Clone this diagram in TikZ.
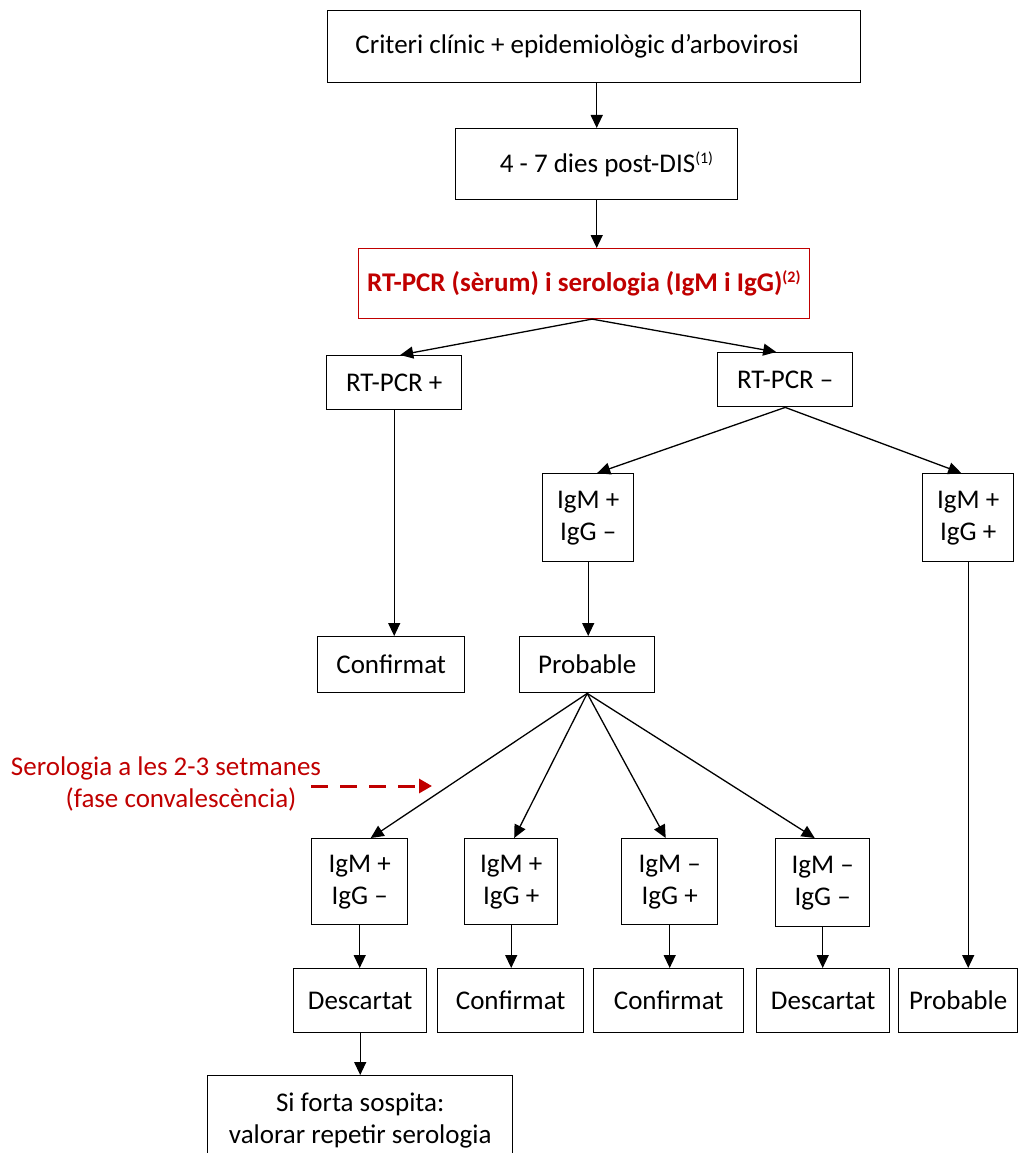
\documentclass[tikz,border=0pt]{standalone}
\usepackage{fontspec}
\setmainfont{Carlito}
\usetikzlibrary{arrows.meta,calc}
\definecolor{darkred}{RGB}{192,0,0}
\newcommand{\fnref}[1]{\textsuperscript{\fontsize{16}{16}\selectfont(#1)}}
\begin{document}
\begin{tikzpicture}[x=1pt,y=-1pt,
  box/.style={draw, line width=1.4pt, inner sep=0pt, anchor=north west,
    align=center, font=\fontsize{27}{32}\selectfont},
  arr/.style={line width=1.3pt, -{Triangle[length=13pt,width=12pt]}},
  redarr/.style={line width=3pt, darkred, dash pattern=on 17pt off 12pt,
    -{Triangle[length=13pt,width=14pt]}},
]
\useasboundingbox (0,0) rectangle (1019,1153);

% main chain
\node[box, minimum width=533, minimum height=72] (crit) at (327,10)
  {Criteri clínic + epidemiològic d’arbovirosi\hspace*{34pt}};
\node[box, minimum width=282, minimum height=71] (dies) at (455,128)
  {\hspace*{20pt}4 - 7 dies post-DIS\fnref{1}};
\node[box, draw=darkred, line width=1.1pt, text=darkred, minimum width=451, minimum height=70,
  font=\fontsize{27}{32}\selectfont\bfseries] (pcr) at (358,248)
  {RT-PCR (sèrum) i serologia (IgM i IgG)\fnref{2}};

% RT-PCR result
\node[box, minimum width=135, minimum height=54] (pos) at (326,355) {RT-PCR +};
\node[box, minimum width=135, minimum height=54] (neg) at (717,352) {RT-PCR –};

% serology with negative RT-PCR
\node[box, minimum width=91, minimum height=88] (mg1) at (542,473) {IgM +\\IgG –};
\node[box, minimum width=91, minimum height=88] (mg2) at (922,473) {IgM +\\IgG +};

\node[box, minimum width=147, minimum height=56] (conf1) at (317,636) {Confirmat};
\node[box, minimum width=135, minimum height=56] (prob1) at (519,636) {Probable};

% convalescent serology
\node[box, minimum width=96, minimum height=86] (b1) at (311,838) {IgM +\\IgG –};
\node[box, minimum width=93, minimum height=86] (b2) at (464,838) {IgM +\\IgG +};
\node[box, minimum width=96, minimum height=86] (b3) at (621,838) {IgM –\\IgG +};
\node[box, minimum width=94, minimum height=88] (b4) at (775,838) {IgM –\\IgG –};

\node[box, minimum width=133, minimum height=64] (d1) at (293,968) {Descartat};
\node[box, minimum width=146, minimum height=64] (c2) at (437,968) {Confirmat};
\node[box, minimum width=150, minimum height=64] (c3) at (593,968) {Confirmat};
\node[box, minimum width=133, minimum height=64] (d4) at (756,968) {Descartat};
\node[box, minimum width=119, minimum height=64] (prob2) at (898,968) {Probable};

\node[box, minimum width=305, minimum height=90] (sos) at (207,1075)
  {Si forta sospita:\\valorar repetir serologia};

% timing note
\node[text=darkred, align=center, font=\fontsize{27}{32}\selectfont] (note) at (166,784)
  {Serologia a les 2-3 setmanes\\\hspace*{30pt}(fase convalescència)};
\coordinate (dashstart) at (311,786);
\coordinate (dashend) at (432,786);
\draw[redarr] (dashstart) -- (dashend);

% connectors
\draw[arr] (crit.south -| dies.north) -- (dies.north);
\draw[arr] (dies.south) -- (pcr.north -| dies.south);
\draw[arr] ([xshift=8pt]pcr.south) -- ([xshift=6pt]pos.north);
\draw[arr] ([xshift=8pt]pcr.south) -- ([xshift=-9pt]neg.north);
\draw[arr] (neg.south) -- ([xshift=9pt]mg1.north);
\draw[arr] (neg.south) -- ([xshift=-7pt]mg2.north);
\draw[arr] (pos.south) -- (pos.south |- conf1.north);
\draw[arr] (mg1.south) -- (mg1.south |- prob1.north);
\draw[arr] (mg2.south) -- (mg2.south |- prob2.north);
\draw[arr] (prob1.south) -- ([xshift=11pt]b1.north);
\draw[arr] (prob1.south) -- ([xshift=3pt]b2.north);
\draw[arr] (prob1.south) -- ([xshift=-4pt]b3.north);
\draw[arr] (prob1.south) -- ([xshift=-8pt]b4.north);
\draw[arr] (b1.south) -- (b1.south |- d1.north);
\draw[arr] (b2.south) -- (b2.south |- c2.north);
\draw[arr] (b3.south) -- (b3.south |- c3.north);
\draw[arr] (b4.south) -- (b4.south |- d4.north);
\draw[arr] (d1.south) -- (d1.south |- sos.north);
\end{tikzpicture}
\end{document}
